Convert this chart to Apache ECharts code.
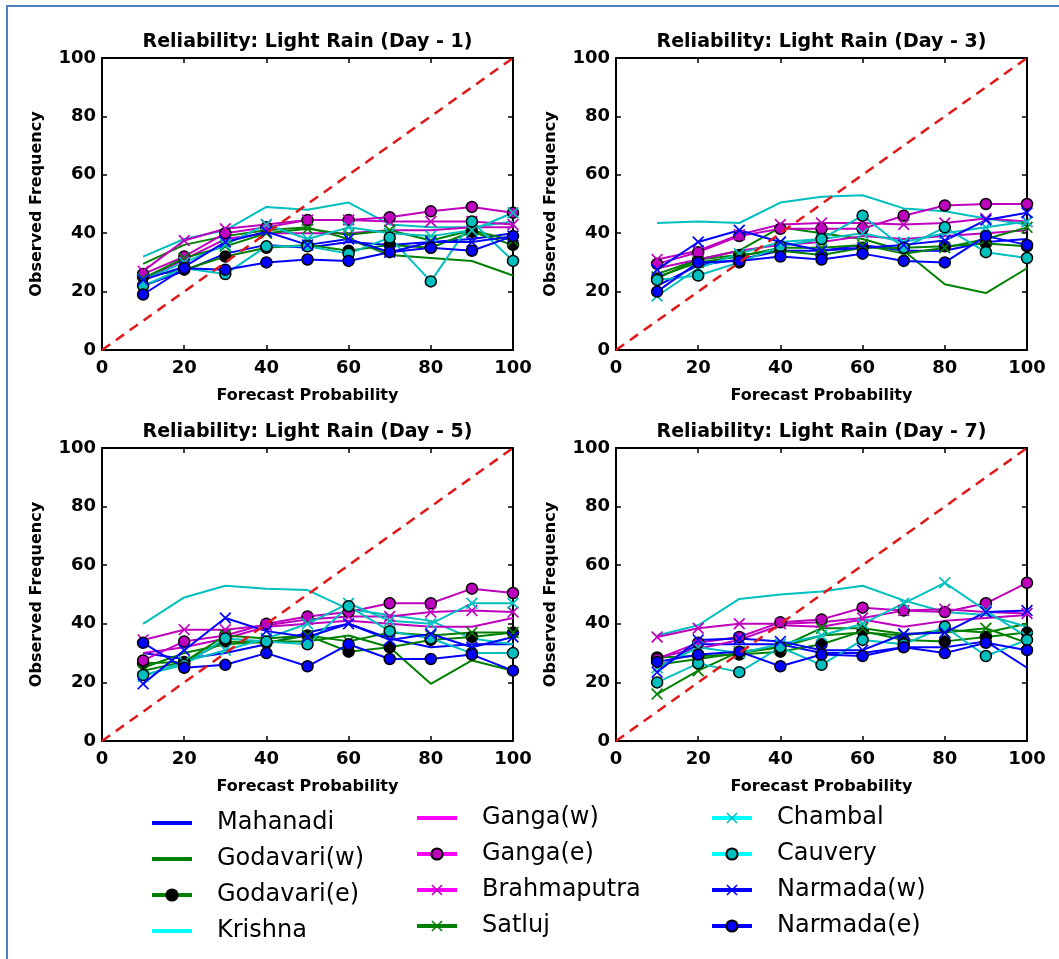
<!DOCTYPE html>
<html>
<head>
<meta charset="utf-8">
<script src="https://cdn.jsdelivr.net/npm/echarts@6/dist/echarts.min.js"></script>
<style>
  html, body { margin: 0; padding: 0; background: #fff; }
  #chart { width: 1059px; height: 959px; }
</style>
</head>
<body>
<div id="chart"></div>
<script>
const forecastProb = [10, 20, 30, 40, 50, 60, 70, 80, 90, 100];
const rivers = ['Mahanadi', 'Godavari(w)', 'Godavari(e)', 'Krishna', 'Ganga(w)', 'Ganga(e)',
  'Brahmaputra', 'Satluj', 'Chambal', 'Cauvery', 'Narmada(w)', 'Narmada(e)'];
const panelTitles = ['Reliability: Light Rain (Day - 1)', 'Reliability: Light Rain (Day - 3)',
  'Reliability: Light Rain (Day - 5)', 'Reliability: Light Rain (Day - 7)'];
const diagonal = [[0, 0], [100, 100]];

// observed frequency, one row per river (same order as rivers)
const day1 = [
  [22, 27, 33, 36, 35, 37, 36, 37, 38, 40],
  [29.5, 36, 39, 41, 42, 38, 32.5, 31.5, 30.5, 25.5],
  [25, 27.5, 32, 35, 36, 34, 36, 35, 40.5, 36],
  [32, 38, 41, 49, 48, 50.5, 43, 42, 42, 44],
  [24, 31, 38, 40, 40, 40, 41, 41, 42, 42],
  [26, 32, 40, 42, 44.5, 44.5, 45.5, 47.5, 49, 47],
  [27, 37.5, 41.5, 43, 44.5, 44.5, 44, 44, 44, 43],
  [24.5, 31.5, 35.5, 40, 41.5, 39.5, 41, 37.5, 41, 37.5],
  [24, 30, 36, 43, 38, 42, 40, 39, 41, 47],
  [22, 28, 26, 35.5, 35.5, 33, 38.5, 23.5, 44, 30.5],
  [24, 28.5, 37, 40.5, 36, 38, 33.5, 37, 37, 39],
  [19, 28, 27.5, 30, 31, 30.5, 33.5, 35, 34, 39]
];
const day3 = [
  [22, 29, 31, 34, 34, 36, 34, 34, 37, 38],
  [26, 31, 34, 42, 40, 38, 34, 22.5, 19.5, 28],
  [24.5, 31, 32.5, 34, 32.5, 35, 35, 35.5, 36.5, 35.5],
  [43.5, 44, 43.5, 50.5, 52.5, 53, 48.5, 47.5, 45, 43],
  [28, 31, 34, 36, 37, 39, 38, 39, 40, 41],
  [29.5, 33.5, 39, 41.5, 41.5, 41.5, 46, 49.5, 50, 50],
  [31, 34, 39.5, 43, 43.5, 43.5, 43, 43.5, 45, 44],
  [25, 30, 32, 35, 35, 36, 33, 35, 38, 42],
  [18.5, 28, 33, 37, 38, 40, 37, 40, 42, 44],
  [24, 25.5, 30, 35.5, 38, 46, 35, 42, 33.5, 31.5],
  [27.5, 37, 41, 37, 34, 35, 36, 37.5, 44.5, 47],
  [20, 30, 30.5, 32, 31, 33, 30.5, 30, 39, 36]
];
const day5 = [
  [30, 28, 30, 33, 37, 40, 35, 32, 33, 33],
  [25, 30, 33, 34, 34, 36, 32, 19.5, 27.5, 24],
  [26.5, 27, 34, 33.5, 36, 30.5, 32, 34.5, 35.5, 37],
  [40, 49, 53, 52, 51.5, 45, 43, 41, 35, 33],
  [30, 32, 35, 39, 40, 41, 40, 39, 39, 42],
  [27.5, 34, 36, 40, 42.5, 44, 47, 47, 52, 50.5],
  [34.5, 38, 38, 39.5, 41.5, 42.5, 42.5, 44, 44.5, 44],
  [24, 27, 36, 35, 36, 34, 37, 36, 37, 37],
  [22, 27, 31, 35, 40, 47, 41, 40, 47, 47],
  [22.5, 26, 35, 34, 33, 46, 37.5, 35, 30, 30],
  [19.5, 31, 42, 37.5, 35.5, 40, 34.5, 36.5, 32, 35.5],
  [33.5, 25, 26, 30, 25.5, 33, 28, 28, 29.5, 24]
];
const day7 = [
  [25, 33, 33, 33, 30, 30, 32, 32, 34, 25],
  [26, 28, 30, 32, 36, 37, 36, 38, 37, 40],
  [28.5, 29, 29.5, 30.5, 33, 37.5, 34.5, 34, 35.5, 37],
  [36, 39.5, 48.5, 50, 51, 53, 48, 44, 43, 39],
  [28.5, 31.5, 34.5, 39.5, 39, 41.5, 39, 41, 42, 43],
  [28, 33.5, 35.5, 40.5, 41.5, 45.5, 44.5, 44, 47, 54],
  [35.5, 38.5, 40, 40, 40.5, 42, 44.5, 45, 44, 43.5],
  [16, 24, 30.5, 32, 38.5, 38.5, 36.5, 37, 38.5, 33.5],
  [25, 32, 30, 33, 36, 40, 47, 54, 44.5, 35.5],
  [20, 26.5, 23.5, 32, 26, 34.5, 33, 39, 29, 34.5],
  [23.5, 34.5, 35, 34, 31, 31, 36.5, 37, 44, 44.5],
  [27, 29.5, 30.5, 25.5, 29.5, 29, 32, 30, 33.5, 31]
];
const panels = [day1, day3, day5, day7];

// line colour, marker, marker face, legend colour
const looks = [
  { line: '#0000ff', marker: '', face: '', legend: '#0000ff' },
  { line: '#008000', marker: '', face: '', legend: '#008000' },
  { line: '#008000', marker: 'o', face: '#000000', legend: '#008000' },
  { line: '#00bfbf', marker: '', face: '', legend: '#00ffff' },
  { line: '#bf00bf', marker: '', face: '', legend: '#ff00ff' },
  { line: '#bf00bf', marker: 'o', face: '#bf00bf', legend: '#ff00ff' },
  { line: '#bf00bf', marker: 'x', face: '#bf00bf', legend: '#ff00ff' },
  { line: '#008000', marker: 'x', face: '#008000', legend: '#008000' },
  { line: '#00bfbf', marker: 'x', face: '#00bfbf', legend: '#00ffff' },
  { line: '#00bfbf', marker: 'o', face: '#00bfbf', legend: '#00ffff' },
  { line: '#0000ff', marker: 'x', face: '#0000ff', legend: '#0000ff' },
  { line: '#0000ff', marker: 'o', face: '#0000ff', legend: '#0000ff' }
];

const xMark = 'path://M0,1L1,0L5,4L9,0L10,1L6,5L10,9L9,10L5,6L1,10L0,9L4,5Z';
const font = 'DejaVu Sans';
const grids = [
  { left: 102, top: 58, width: 411, height: 292 },
  { left: 616, top: 58, width: 411, height: 292 },
  { left: 102, top: 448, width: 411, height: 293 },
  { left: 616, top: 448, width: 411, height: 293 }
];

const xAxes = [];
const yAxes = [];
const series = [];
const titles = [];

grids.forEach((g, i) => {
  const common = {
    gridIndex: i, type: 'value', min: 0, max: 100, interval: 20,
    splitLine: { show: false },
    axisLine: { show: true, onZero: false, lineStyle: { color: '#000', width: 2 } },
    axisTick: { show: true, inside: true, length: 5, lineStyle: { color: '#000', width: 1.5 } }
  };
  const labels = { fontSize: 18, fontWeight: 'bold', fontFamily: font, color: '#000' };
  const nameStyle = { fontSize: 16, fontWeight: 'bold', fontFamily: font, color: '#000' };
  xAxes.push(Object.assign({}, common, {
    position: 'bottom',
    axisLabel: Object.assign({ margin: 9 }, labels),
    name: 'Forecast Probability', nameLocation: 'middle', nameGap: 38, nameTextStyle: nameStyle
  }));
  yAxes.push(Object.assign({}, common, {
    position: 'left',
    axisLabel: Object.assign({ margin: 6 }, labels),
    name: 'Observed Frequency', nameLocation: 'middle', nameGap: 57, nameTextStyle: nameStyle
  }));
  titles.push({
    text: panelTitles[i], left: g.left + g.width / 2, top: g.top - 25, textAlign: 'center', padding: 0,
    textStyle: { fontSize: 19, fontWeight: 'bold', fontFamily: font, color: '#000' }
  });
});
// mirrored ticks on top and right, like the matplotlib frame
grids.forEach((g, i) => {
  const mirror = {
    gridIndex: i, type: 'value', min: 0, max: 100, interval: 20,
    splitLine: { show: false }, axisLabel: { show: false },
    axisLine: { show: true, onZero: false, lineStyle: { color: '#000', width: 2 } },
    axisTick: { show: true, inside: true, length: 5, lineStyle: { color: '#000', width: 1.5 } }
  };
  xAxes.push(Object.assign({ position: 'top' }, mirror));
  yAxes.push(Object.assign({ position: 'right' }, mirror));
});

panels.forEach((rows, gi) => {
  rows.forEach((vals, r) => {
    const lk = looks[r];
    const s = {
      name: rivers[r], type: 'line', xAxisIndex: gi, yAxisIndex: gi,
      data: forecastProb.map((x, k) => [x, vals[k]]),
      lineStyle: { color: lk.line, width: 2 },
      emphasis: { disabled: true },
      z: 2
    };
    if (lk.marker === 'o') {
      s.symbol = 'circle';
      s.symbolSize = 11;
      s.itemStyle = { color: lk.face, borderColor: '#000', borderWidth: 1.5 };
    } else if (lk.marker === 'x') {
      s.symbol = xMark;
      s.symbolSize = 12;
      s.itemStyle = { color: lk.face };
    } else {
      s.symbol = 'none';
      s.itemStyle = { color: lk.line };
    }
    series.push(s);
  });
  series.push({
    type: 'line', xAxisIndex: gi, yAxisIndex: gi, data: diagonal, symbol: 'none', silent: true,
    lineStyle: { color: '#e01818', width: 2.5, type: [10, 7] }, z: 3
  });
});

function legendCol(names, left, top) {
  return {
    orient: 'vertical', left: left, top: top, padding: 0,
    itemWidth: 40, itemHeight: 14, itemGap: 12, selectedMode: false,
    textStyle: { fontSize: 24, fontFamily: font, color: '#000', padding: [0, 0, 0, 20] },
    data: names.map(n => {
      const lk = looks[rivers.indexOf(n)];
      const item = { name: n, lineStyle: { color: lk.legend, width: 4 } };
      if (!lk.marker) item.itemStyle = { opacity: 0 };
      return item;
    })
  };
}

const chart = echarts.init(document.getElementById('chart'), null, { renderer: 'canvas' });
chart.setOption({
  animation: false,
  backgroundColor: '#fff',
  title: titles,
  grid: grids,
  xAxis: xAxes,
  yAxis: yAxes,
  legend: [
    legendCol(rivers.slice(0, 4), 150, 811),
    legendCol(rivers.slice(4, 8), 415, 806),
    legendCol(rivers.slice(8, 12), 710, 806)
  ],
  graphic: [
    { type: 'line', shape: { x1: 7, y1: 6, x2: 7, y2: 959 }, style: { stroke: '#4f81bd', lineWidth: 2 } },
    { type: 'line', shape: { x1: 6, y1: 6, x2: 1059, y2: 6 }, style: { stroke: '#4f81bd', lineWidth: 2 } }
  ],
  series: series
});
</script>
</body>
</html>
